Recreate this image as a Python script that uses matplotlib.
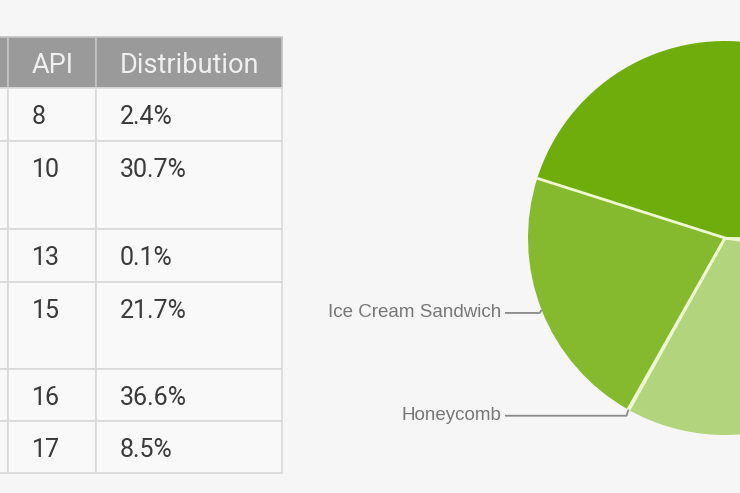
import numpy as np
import matplotlib.pyplot as plt
from matplotlib.patches import Rectangle

# -----------------------------------------
# DATA
# -----------------------------------------
api_levels = ["8", "10", "13", "15", "16", "17"]
distribution = ["2.4%", "30.7%", "0.1%", "21.7%", "36.6%", "8.5%"]
header_labels = ["API", "Distribution"]

pie_names = ["Froyo", "Gingerbread", "Honeycomb", "Ice Cream Sandwich", "Jelly Bean"]
pie_values = [2.4, 30.7, 0.1, 21.7, 45.1]
pie_colors = ["#c4df9b", "#b1d47d", "#9ac85a", "#86ba2e", "#6fad0c"]
labelled = ["Ice Cream Sandwich", "Honeycomb"]

# -----------------------------------------
# LAYOUT (pixel coords, y measured from top)
# -----------------------------------------
W, H = 740, 493
BG = "#f6f6f6"

col_x = [-60, 8, 96, 282]
row_y = [37, 88, 141, 229, 282, 369, 421, 473]


def Y(y):
    return H - y


fig = plt.figure(figsize=(7.4, 4.93), dpi=100, facecolor=BG)
ax = fig.add_axes([0, 0, 1, 1])
ax.set_facecolor(BG)

# table cells
for r in range(len(row_y) - 1):
    top, bot = row_y[r], row_y[r + 1]
    for c in range(len(col_x) - 1):
        x0, x1 = col_x[c], col_x[c + 1]
        fc = "#9a9a9a" if r == 0 else "#f9f9f9"
        ec = "#c4c4c4" if r == 0 else "#d9d9d9"
        ax.add_patch(Rectangle((x0, Y(bot)), x1 - x0, bot - top,
                               facecolor=fc, edgecolor=ec, linewidth=1.2))

# header text
ax.text(32, Y(73), header_labels[0], color="#f0f0f0", fontsize=19.5,
        family="Roboto", va="baseline", ha="left")
ax.text(120, Y(73), header_labels[1], color="#f0f0f0", fontsize=19.5,
        family="Roboto", va="baseline", ha="left")

# body text
for i, (api, dist) in enumerate(zip(api_levels, distribution)):
    top = row_y[i + 1]
    ax.text(32, Y(top + 36), api, color="#3a3a3a", fontsize=18,
            family="Roboto", va="baseline", ha="left")
    ax.text(120, Y(top + 36), dist, color="#3a3a3a", fontsize=18,
            family="Roboto", va="baseline", ha="left")

# -----------------------------------------
# PIE
# -----------------------------------------
cx, cy, rad = 725, 238, 197
wedges, _ = ax.pie(pie_values, colors=pie_colors, startangle=0,
                   counterclock=False, center=(cx, Y(cy)), radius=rad,
                   wedgeprops=dict(linewidth=0))

# pale separators between slices
for w in wedges:
    a = np.deg2rad(w.theta1)
    ax.plot([cx, cx + rad * np.cos(a)], [Y(cy), Y(cy) + rad * np.sin(a)],
            color="#eef8d2", lw=2, solid_capstyle="butt")

for w, name in zip(wedges, pie_names):
    if name not in labelled:
        continue
    mid = np.deg2rad((w.theta1 + w.theta2) / 2)
    ex = cx + rad * np.cos(mid)
    ey = Y(cy) + rad * np.sin(mid)
    ly = ey - 3 if name != "Honeycomb" else ey - 6
    ax.plot([505, ex - 2, ex], [ly, ly, ey], color="#8a8a8a", lw=1.3,
            solid_capstyle="butt")
    ax.text(501, ly, name, color="#777777", fontsize=13.5,
            family="Liberation Sans", va="center", ha="right")

ax.set_xlim(0, W)
ax.set_ylim(0, H)
ax.set_aspect("equal")
ax.axis("off")

plt.savefig("out.png", dpi=100, facecolor=BG)
